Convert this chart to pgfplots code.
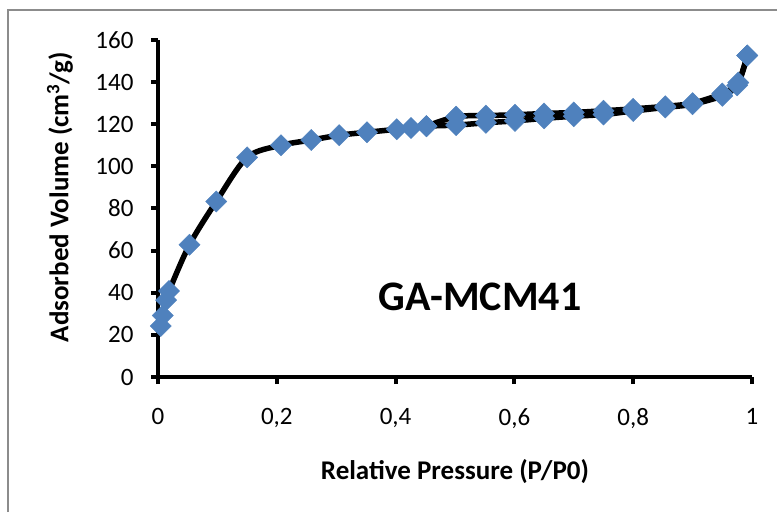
\documentclass[border=0pt]{standalone}
\usepackage{pgfplots}
\pgfplotsset{compat=1.18}
\usepackage{fontspec}
\setmainfont{Carlito}
\definecolor{mk}{HTML}{4F81BD}
\definecolor{frame}{HTML}{8C8C8C}
\pgfplotstableread{
x y
0.0045 24.2
0.008 29.2
0.0135 36.5
0.0185 40.8
0.053 62.8
0.098 83.3
0.150 104.3
0.207 110
0.258 112.5
0.305 114.8
0.352 116.2
0.402 117.6
0.426 118.2
0.452 119.1
0.502 119.6
0.552 120.7
0.601 121.6
0.650 122.8
0.700 123.8
0.750 124.6
0.800 126.3
0.854 128
0.900 129.5
0.950 133.5
0.975 138.5
0.992 152.6
}\adsorb
\pgfplotstableread{
x y
0.992 152.6
0.977 139.8
0.950 134.6
0.900 130
0.854 128.5
0.800 127.3
0.750 126.4
0.700 125.6
0.650 125.1
0.601 124.5
0.552 124.1
0.502 123.6
0.452 119.1
}\desorb
\begin{document}
\begin{tikzpicture}[x=1pt,y=1pt]
\path[use as bounding box] (0,0) rectangle (777,512);
\draw[frame, line width=2pt] (8,0) -- (8,502) -- (778,502);
\begin{axis}[
  at={(158pt,135pt)}, anchor=south west,
  scale only axis, width=594pt, height=337pt,
  xmin=0, xmax=1, ymin=0, ymax=160,
  axis lines*=left,
  axis line style={line width=4.5pt, -},
  tick align=outside,
  major tick length=7pt,
  tick style={line width=4pt, black},
  xtick={0,0.2,0.4,0.6,0.8,1},
  ytick={0,20,...,160},
  xticklabels={0,{0,2},{0,4},{0,6},{0,8},1},
  /pgf/number format/assume math mode=true,
  ticklabel style={font=\fontsize{25}{30}\selectfont},
  xticklabel style={yshift=-21pt},
  yticklabel style={xshift=-14pt},
  xlabel={\textbf{Relative Pressure (P/P0)}},
  ylabel={\textbf{Adsorbed Volume (cm\textsuperscript{3}/g)}},
  label style={font=\fontsize{27}{30}\selectfont},
  xlabel style={at={(axis description cs:0.5,-0.279)}, anchor=center},
  ylabel style={at={(axis description cs:-0.165,0.534)}, anchor=center},
  clip=false,
]
\addplot[black, line width=5.5pt, smooth, tension=0.5, no marks] table {\adsorb};
\addplot[black, line width=5.5pt, smooth, tension=0.5, no marks] table {\desorb};
\addplot[only marks, mark=square*, mark size=7.5pt, mark options={rotate=45, fill=mk, draw=mk}] table {\adsorb};
\addplot[only marks, mark=square*, mark size=7.5pt, mark options={rotate=45, fill=mk, draw=mk}] table {\desorb};
\end{axis}
\node[font=\fontsize{42}{48}\selectfont\bfseries] at (480,215) {GA-MCM41};
\end{tikzpicture}
\end{document}
